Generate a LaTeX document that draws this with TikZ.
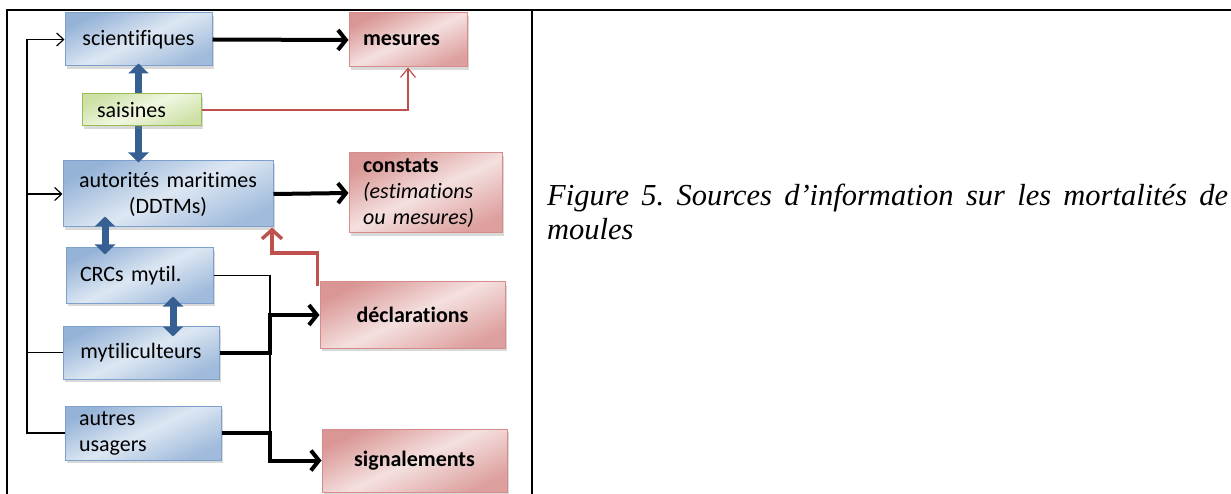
\documentclass[tikz,border=0pt]{standalone}
\usepackage{fontspec}
\setmainfont{Carlito}[Ligatures=NoCommon]
\newfontfamily\capfont{Liberation Serif}
\usetikzlibrary{positioning, calc, arrows.meta, shadows}
\frenchspacing

\definecolor{bluedark}{RGB}{149,179,215}
\definecolor{bluelight}{RGB}{221,231,243}
\definecolor{blueline}{RGB}{126,160,204}
\definecolor{bluearrow}{RGB}{55,96,146}
\definecolor{reddark}{RGB}{217,150,148}
\definecolor{redlight}{RGB}{244,224,223}
\definecolor{redline}{RGB}{214,140,138}
\definecolor{redarrow}{RGB}{192,80,77}
\definecolor{greendark}{RGB}{205,225,165}
\definecolor{greenlight}{RGB}{240,247,226}
\definecolor{greenline}{RGB}{155,187,89}

\tikzset{
  box/.style={draw, line width=1pt, inner ysep=0pt, inner xsep=14pt,
    font=\fontsize{22}{26}\selectfont,
    drop shadow={shadow xshift=1.5pt, shadow yshift=-3pt, opacity=0.3}},
  bluebox/.style={box, draw=blueline, top color=bluedark, bottom color=bluedark!90,
    middle color=bluelight, shading angle=25},
  redbox/.style={box, draw=redline, top color=reddark, bottom color=reddark!90,
    middle color=redlight, shading angle=25},
  greenbox/.style={box, draw=greenline, top color=greendark, bottom color=greendark,
    middle color=greenlight, shading angle=25},
  thinarr/.style={line width=1.2pt, -{Straight Barb[length=7pt,width=13pt]}},
  thickarr/.style={line width=4pt, -{Straight Barb[length=8pt,width=20pt]}},
  bluedbl/.style={bluearrow, line width=7pt,
    {Triangle[length=10pt,width=20pt]}-{Triangle[length=10pt,width=20pt]}},
}

\begin{document}
\begin{tikzpicture}[x=1pt, y=-1pt]
  \useasboundingbox (0,0) rectangle (1231,494);

  % table frame
  \draw[line width=2.5pt] (7,494) -- (7,10) -- (1231,10);
  \draw[line width=2.5pt] (532,10) -- (532,494);

  % actors
  \node (sci) at (138.5,39.5) [bluebox, text width=119pt, minimum height=53pt, align=center] {scientifiques};
  \node (auto) at (168,194) [bluebox, text width=182pt, minimum height=66pt, align=center] {autorités maritimes\\(DDTMs)};
  \node (crc) at (139.5,275.5) [bluebox, text width=119pt, minimum height=55pt, align=left] {CRCs mytil.};
  \node (myt) at (141,352.5) [bluebox, text width=128pt, minimum height=53pt, align=center] {mytiliculteurs};
  \node (autres) at (143,433) [bluebox, text width=128pt, minimum height=54pt, align=left] {autres\\usagers};

  % sources
  \node (mes) at (408,40) [redbox, text width=90pt, minimum height=54pt, align=left] {\textbf{mesures}};
  \node (cons) at (425.5,193) [redbox, text width=125pt, minimum height=80pt, align=left] {\textbf{constats}\\\textit{(estimations}\\\textit{ou mesures)}};
  \node (decl) at (412.5,315) [redbox, text width=157pt, minimum height=66pt, align=center] {\textbf{déclarations}};
  \node (sign) at (414.5,460.5) [redbox, text width=157pt, minimum height=63pt, align=center] {\textbf{signalements}};

  % exchanges between actors
  \coordinate (c1) at (105,0);
  \coordinate (c2) at (173,0);
  \draw[bluedbl, shorten <=-3pt, shorten >=-2pt] (sci.south) -- (sci.south |- auto.north);
  \draw[bluedbl, shorten <=-11pt, shorten >=-7pt] (auto.south -| c1) -- (crc.north -| c1);
  \draw[bluedbl, shorten <=-7pt, shorten >=-11pt] (crc.south -| c2) -- (myt.north -| c2);

  \node (sais) at (141.5,110) [greenbox, text width=89pt, minimum height=32pt, align=left, inner xsep=15pt] {saisines};

  % left bus
  \coordinate (bus) at (27,39.5);
  \draw[thinarr] (autres.west) -| (bus) -- (sci.west);
  \draw[line width=1.2pt] (myt.west) -- (myt.west -| bus);
  \draw[thinarr] (auto.west -| bus) -- (auto.west);

  \draw[thickarr] (sci.east) -- (mes.west);
  \draw[thickarr] (auto.east) -- (cons.west);
  \draw[redarrow, line width=1.2pt, -{Straight Barb[length=9pt,width=15pt]}] (sais.east) -| (mes.south);

  % declarations fed back to the authorities
  \coordinate (rk) at (272,253);
  \draw[redarrow, line width=3.5pt, -{Straight Barb[length=9pt,width=20pt]}]
    ($(decl.north west)+(-2,5)$) |- (rk) -- (rk |- auto.south);

  % right bus
  \coordinate (jn) at (270,0);
  \draw[line width=1.2pt] (crc.east) -| (jn |- sign.west);
  \draw[thickarr] (myt.east) -| (jn |- decl.west) -- (decl.west);
  \draw[thickarr] (autres.east) -| (jn |- sign.west) -- (sign.west);

  % caption
  \node (cap) at (547,240) [anchor=base west, align=left, inner sep=0pt,
    font=\capfont\itshape\fontsize{30.5}{34}\selectfont]
    {\makebox[681pt][s]{Figure 5. Sources d’information sur les mortalités de}\\moules};
\end{tikzpicture}
\end{document}
